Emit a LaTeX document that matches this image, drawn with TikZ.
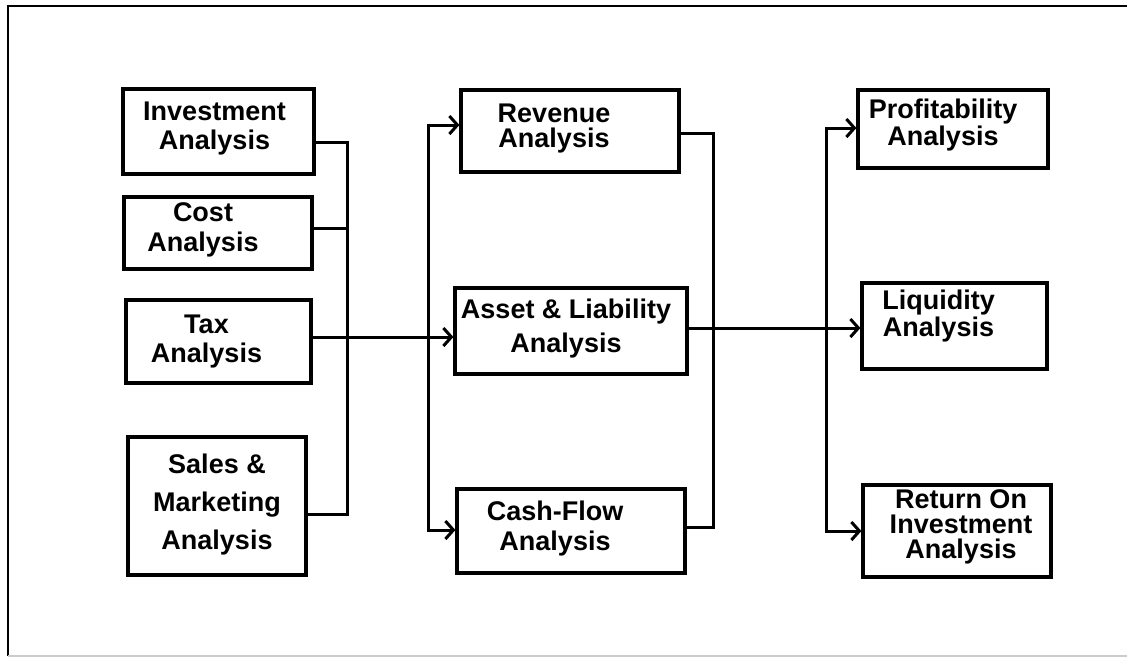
\documentclass[tikz,border=0pt]{standalone}
\usepackage{fontspec}
\setmainfont{Liberation Sans}
\usetikzlibrary{arrows.meta}

\tikzset{
  box/.style={draw, line width=1.6pt, inner sep=0pt},
  txt/.style={font=\bfseries\fontsize{13.5}{#1}\selectfont, align=center, inner sep=0pt},
  wire/.style={line width=1.5pt},
  flow/.style={wire, -{Straight Barb[length=4pt,width=9pt]}},
}

\begin{document}
\begin{tikzpicture}[x=0.5pt,y=-0.5pt]
\useasboundingbox (0,0) rectangle (1127,661);
% frame
\draw[line width=1pt] (1127,6) -- (8,6) -- (8,656);
\draw[line width=0.8pt, black!20] (8,656) -- (1127,656);

% first column
\node[box, minimum width=95.5pt, minimum height=42.5pt,
  label={[txt=14.5, xshift=-2pt, yshift=1.5pt]center:{Investment\\Analysis}}] (inv) at (218.5,131.5) {};
\node[box, minimum width=94pt, minimum height=36pt,
  label={[txt=15, xshift=-7.5pt, yshift=1.5pt]center:{Cost\\Analysis}}] (cost) at (218,233) {};
\node[box, minimum width=92.5pt, minimum height=41.5pt,
  label={[txt=14.5, xshift=-6pt]center:{Tax\\Analysis}}] (tax) at (218.5,341.5) {};
\node[box, minimum width=89pt, minimum height=69pt,
  label={[txt=19, yshift=1pt]center:{Sales \&\\Marketing\\Analysis}}] (sales) at (217,506) {};

% second column
\node[box, minimum width=109pt, minimum height=41pt,
  label={[txt=12.5, xshift=-8pt, yshift=1.5pt]center:{Revenue\\Analysis}}] (rev) at (570,131) {};
\node[box, minimum width=116pt, minimum height=43pt,
  label={[txt=17, xshift=-2.5pt, yshift=1pt]center:{Asset \& Liability\\Analysis}}] (asset) at (571,331) {};
\node[box, minimum width=114pt, minimum height=42pt,
  label={[txt=15, xshift=-8pt, yshift=1.5pt]center:{Cash-Flow\\Analysis}}] (cash) at (571,531) {};

% third column
\node[box, minimum width=95pt, minimum height=39pt,
  label={[txt=12, xshift=-5pt, yshift=2pt]center:{Profitability\\Analysis}}] (prof) at (953,129) {};
\node[box, minimum width=92.5pt, minimum height=43pt,
  label={[txt=12.5, xshift=-8pt, yshift=5pt]center:{Liquidity\\Analysis}}] (liq) at (954.5,326) {};
\node[box, minimum width=94pt, minimum height=46pt,
  label={[txt=12.5, xshift=2pt, yshift=2pt]center:{Return On\\Investment\\Analysis}}] (roi) at (957,531) {};

% joins and splits
\coordinate (jinv) at (347,142);
\coordinate (jcost) at (347,228);
\coordinate (jtax) at (347,337);
\coordinate (jsales) at (347,514);
\coordinate (srev) at (428,125);
\coordinate (scash) at (428,530);
\coordinate (mrev) at (713,133);
\coordinate (masset) at (713,328);
\coordinate (mcash) at (713,527);
\coordinate (sprof) at (826,128);
\coordinate (sroi) at (826,531);

\draw[wire] (inv.east |- jinv) -- (jinv) -- (jsales) -- (sales.east |- jsales);
\draw[wire] (cost.east |- jcost) -- (jcost);
\draw[flow] (tax.east |- jtax) -- (asset.west |- jtax);
\draw[flow] (scash) -- (srev) -- (rev.west |- srev);
\draw[flow] (srev) -- (scash) -- (cash.west |- scash);

\draw[wire] (rev.east |- mrev) -- (mrev) -- (mcash) -- (cash.east |- mcash);
\draw[flow] (asset.east |- masset) -- (liq.west |- masset);
\draw[flow] (sroi) -- (sprof) -- (prof.west |- sprof);
\draw[flow] (sprof) -- (sroi) -- (roi.west |- sroi);
\end{tikzpicture}
\end{document}
